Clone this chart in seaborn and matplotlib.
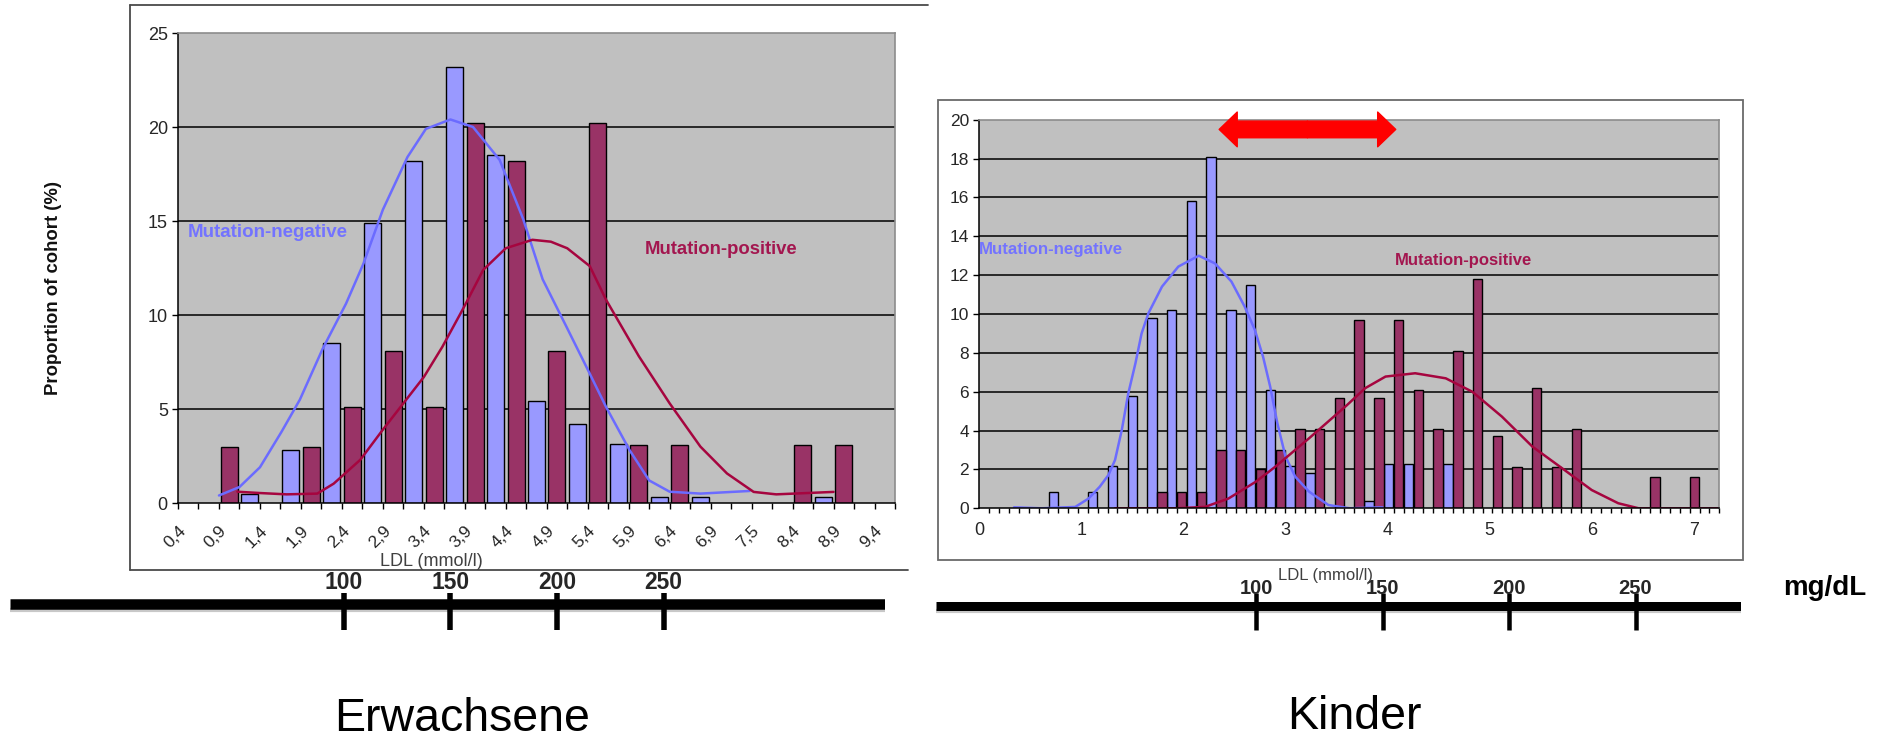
import numpy as np
import pandas as pd
import matplotlib
matplotlib.use("Agg")
import matplotlib.pyplot as plt
import seaborn as sns
from matplotlib.lines import Line2D
from matplotlib.patches import Rectangle, FancyArrowPatch, ArrowStyle

# ======================= DATA =======================
# Adults (Erwachsene): Excel category axis, each bin = [positive slot, negative slot]
adult_bin_labels = ["0,4", "0,9", "1,4", "1,9", "2,4", "2,9", "3,4", "3,9", "4,4",
                    "4,9", "5,4", "5,9", "6,4", "6,9", "7,5", "8,4", "8,9", "9,4"]
adult_pos = [0, 3.0, 0, 3.0, 5.1, 8.1, 5.1, 20.2, 18.2, 8.1, 20.2, 3.1, 3.1, 0, 0, 3.1, 3.1, 0]
adult_neg = [0, 0.5, 2.8, 8.5, 14.9, 18.2, 23.2, 18.5, 5.4, 4.2, 3.15, 0.3, 0.3, 0, 0, 0.3, 0, 0]
# smoothed fit curves (x in category-slot units)
adult_neg_curve_x = [2.0, 3.0, 4.0, 5.06, 5.95, 7.06, 8.2, 9.04, 10.0, 11.2, 12.1, 13.3, 14.4,
                     15.7, 16.85, 17.8, 18.96, 20.0, 20.9, 22.05, 23.0, 24.0, 25.5, 27.9]
adult_neg_curve_y = [0.4, 0.85, 1.9, 3.8, 5.5, 8.2, 10.6, 12.7, 15.6, 18.4, 19.9, 20.4, 20.0,
                     18.25, 15.1, 11.9, 9.38, 7.1, 5.1, 2.8, 1.2, 0.6, 0.5, 0.64]
adult_pos_curve_x = [2.9, 4.0, 5.3, 6.8, 7.6, 8.9, 10.0, 11.0, 12.0, 12.9, 13.9, 14.9, 16.0,
                     17.3, 18.2, 19.0, 20.1, 20.9, 22.5, 24.0, 25.5, 26.8, 28.1, 29.2, 32.0]
adult_pos_curve_y = [0.6, 0.53, 0.46, 0.5, 1.03, 2.3, 3.9, 5.3, 6.7, 8.3, 10.3, 12.4, 13.55,
                     14.0, 13.9, 13.55, 12.6, 10.8, 7.8, 5.3, 3.0, 1.57, 0.59, 0.46, 0.59]

# Children (Kinder): 38 bins, each bin = [positive slot, negative slot]
kid_pos = [0, 0, 0, 0, 0, 0, 0, 0, 0, 0.86, 0.86, 0.86, 3.0, 3.0, 2.0, 3.0, 4.1, 4.1, 5.7,
           9.7, 5.7, 9.7, 6.1, 4.1, 8.1, 11.8, 3.7, 2.1, 6.2, 2.1, 4.1, 0, 0, 0, 1.6, 0, 1.6, 0]
kid_neg = [0, 0, 0, 0.86, 0, 0.86, 2.2, 5.8, 9.8, 10.2, 15.8, 18.1, 10.2, 11.5, 6.1, 2.2, 1.8,
           0, 0, 0.4, 2.3, 2.3, 0, 2.3, 0, 0, 0, 0, 0, 0, 0, 0, 0, 0, 0, 0, 0, 0]
kid_x_labels = [0, 1, 2, 3, 4, 5, 6, 7]
# smoothed fit curves (x in mmol/l)
kid_neg_curve_x = [0.34, 0.61, 0.94, 1.07, 1.18, 1.265, 1.33, 1.396, 1.46, 1.53, 1.59, 1.657, 1.79,
                   1.95, 2.15, 2.31, 2.47, 2.60, 2.70, 2.78, 2.85, 2.92, 3.0, 3.095, 3.23, 3.42,
                   3.63, 3.95]
kid_neg_curve_y = [0.05, 0.0, 0.07, 0.5, 1.11, 1.71, 2.49, 4.03, 5.92, 7.47, 9.0, 10.04, 11.41,
                   12.44, 13.0, 12.6, 11.67, 10.38, 9.18, 7.8, 6.26, 4.38, 2.66, 1.63, 0.86, 0.17,
                   0.0, 0.05]
kid_pos_curve_x = [1.33, 1.92, 2.21, 2.44, 2.71, 2.9, 3.23, 3.60, 3.78, 3.98, 4.27, 4.57, 4.83,
                   5.12, 5.42, 5.71, 6.0, 6.26, 6.46, 7.25]
kid_pos_curve_y = [0.0, 0.0, 0.07, 0.5, 1.37, 2.14, 3.6, 5.3, 6.18, 6.78, 6.95, 6.69, 6.0,
                   4.72, 3.17, 2.06, 0.94, 0.26, 0.0, 0.0]
kid_arrow_span = [2.35, 4.08]   # mmol/l
kid_arrow_level = 19.5

ruler_ticks = [100, 150, 200, 250]   # mg/dL

# ======================= STYLE =======================
sns.set_style("white")
plt.rcParams['font.family'] = ['Liberation Sans', 'DejaVu Sans']

W, H = 1887, 742
fig = plt.figure(figsize=(W / 100, H / 100), dpi=100)


def fx(x):
    return x / W


def fy(y):
    return 1 - y / H


def box(x0, y0, x1, y1):
    return [fx(x0), fy(y1), (x1 - x0) / W, (y1 - y0) / H]


NEG_BAR, POS_BAR = "#9999FF", "#993366"
NEG_LINE, POS_LINE = "#6B6BFF", "#A6053F"
NEG_TXT, POS_TXT = "#7373FF", "#A3164F"
PLOT_BG = "#C0C0C0"
BORDER = "#8C8C8C"


def style_axes(ax, ymax, ystep, ysize):
    ax.set_facecolor(PLOT_BG)
    ax.set_ylim(0, ymax)
    ax.set_yticks(np.arange(0, ymax + 0.1, ystep))
    ax.yaxis.grid(True, color="black", lw=1.1)
    ax.xaxis.grid(False)
    gl = ax.yaxis.get_gridlines()
    gl[0].set_visible(False)
    gl[-1].set_visible(False)
    ax.set_axisbelow(True)
    for s in ("left", "bottom"):
        ax.spines[s].set_color("black")
        ax.spines[s].set_linewidth(1.1)
    for s in ("top", "right"):
        ax.spines[s].set_color(BORDER)
        ax.spines[s].set_linewidth(1.2)
    ax.tick_params(axis="y", direction="out", length=4.3, width=1, color="black",
                   labelsize=ysize, pad=3, left=True)
    ax.set_xlabel("")
    ax.set_ylabel("")


# ======================= ADULT CHART =======================
axL = fig.add_axes(box(178, 33, 895, 503))
rows = []
for j in range(len(adult_bin_labels)):
    rows.append(("pos", 2 * j + 0.5, adult_pos[j]))
    rows.append(("neg", 2 * j + 1.5, adult_neg[j]))
df_a = pd.DataFrame(rows, columns=["series", "x", "value"])
df_a = df_a[(df_a.value > 0) & (df_a.x < 35)]
sns.barplot(data=df_a, x="x", y="value", hue="series",
            palette={"pos": POS_BAR, "neg": NEG_BAR}, native_scale=True, dodge=False,
            width=0.83, edgecolor="black", linewidth=1.0, saturation=1, legend=False,
            errorbar=None, ax=axL)
sns.lineplot(x=adult_neg_curve_x, y=adult_neg_curve_y, color=NEG_LINE, lw=1.8,
             sort=False, estimator=None, ax=axL)
sns.lineplot(x=adult_pos_curve_x, y=adult_pos_curve_y, color=POS_LINE, lw=1.8,
             sort=False, estimator=None, ax=axL)
style_axes(axL, 25, 5, 13)
axL.set_xlim(0, 35)
axL.set_xticks(np.arange(0, 35, 2))
axL.set_xticklabels(adult_bin_labels, rotation=45, ha="right", va="top",
                    rotation_mode="anchor")
axL.set_xticks(np.arange(1, 36, 2), minor=True)
axL.tick_params(axis="x", which="both", direction="out", length=4.3, width=1,
                color="black", bottom=True)
axL.tick_params(axis="x", which="major", labelsize=12.5, pad=10)

# ======================= CHILD CHART =======================
axR = fig.add_axes(box(979.3, 119.7, 1719.3, 508.3))
n_slots = 75
slot_w = 7.25 / n_slots
rows = []
for m in range(len(kid_pos)):
    rows.append(("pos", (2 * m + 0.5) * slot_w, kid_pos[m]))
    rows.append(("neg", (2 * m + 1.5) * slot_w, kid_neg[m]))
df_k = pd.DataFrame(rows, columns=["series", "x", "value"])
df_k = df_k[df_k.value > 0]
sns.barplot(data=df_k, x="x", y="value", hue="series",
            palette={"pos": POS_BAR, "neg": NEG_BAR}, native_scale=True, dodge=False,
            width=0.95, edgecolor="black", linewidth=1.0, saturation=1, legend=False,
            errorbar=None, ax=axR)
sns.lineplot(x=kid_neg_curve_x, y=kid_neg_curve_y, color=NEG_LINE, lw=1.8,
             sort=False, estimator=None, ax=axR)
sns.lineplot(x=kid_pos_curve_x, y=kid_pos_curve_y, color=POS_LINE, lw=1.8,
             sort=False, estimator=None, ax=axR)
style_axes(axR, 20, 2, 12.5)
axR.set_xlim(0, n_slots * slot_w)
axR.set_xticks(kid_x_labels)
axR.set_xticklabels([str(v) for v in kid_x_labels])
axR.set_xticks(np.arange(n_slots + 1) * slot_w, minor=True)
axR.tick_params(axis="x", which="major", length=0, labelsize=13, pad=10)
axR.tick_params(axis="x", which="minor", direction="out", length=3.6, width=1,
                color="black", bottom=True)

# red double arrow
mid = sum(kid_arrow_span) / 2
for end in kid_arrow_span:
    axR.add_patch(FancyArrowPatch((mid, kid_arrow_level), (end, kid_arrow_level),
                                  arrowstyle=ArrowStyle.Simple(head_length=13, head_width=25,
                                                               tail_width=12),
                                  color="#FF0000", mutation_scale=1, shrinkA=0, shrinkB=0,
                                  clip_on=False, zorder=6))

# ======================= TEXTS =======================
fig.text(fx(54), fy(288), "Proportion of cohort (%)", rotation=90, ha="center",
         va="center", fontsize=13.3, fontweight="bold", color="#111111")
fig.text(fx(188), fy(237), "Mutation-negative", fontsize=13.5, fontweight="bold",
         color=NEG_TXT, va="baseline")
fig.text(fx(645), fy(253.5), "Mutation-positive", fontsize=13.3, fontweight="bold",
         color=POS_TXT, va="baseline")
fig.text(fx(978.5), fy(254), "Mutation-negative", fontsize=12.2, fontweight="bold",
         color=NEG_TXT, va="baseline")
fig.text(fx(1395), fy(265), "Mutation-positive", fontsize=12, fontweight="bold",
         color=POS_TXT, va="baseline")
fig.text(fx(431.7), fy(566), "LDL (mmol/l)", ha="center", va="baseline", fontsize=13,
         color="#404040")
fig.text(fx(1278), fy(580), "LDL (mmol/l)", ha="left", va="baseline", fontsize=12,
         color="#404040")
fig.text(fx(1783), fy(595), "mg/dL", ha="left", va="baseline", fontsize=20,
         fontweight="bold", color="black")
fig.text(fx(462), fy(731), "Erwachsene", ha="center", va="baseline", fontsize=33.5,
         color="black")
fig.text(fx(1354), fy(729), "Kinder", ha="center", va="baseline", fontsize=33.5,
         color="black")

# ======================= FRAMES =======================
FRAME = "#4A4A4A"
for (x0, y0, x1, y1) in [(130, 5, 928, 5), (130, 5, 130, 570), (130, 570, 908, 570)]:
    fig.add_artist(Line2D([fx(x0), fx(x1)], [fy(y0), fy(y1)], color=FRAME, lw=1.3))
fig.add_artist(Rectangle((fx(938), fy(560)), (1743 - 938) / W, (560 - 100) / H,
                         fill=False, edgecolor="#6A6A6A", lw=1.3, transform=fig.transFigure))


# ======================= mg/dL RULERS =======================
def ruler(x_start, x_end, px100, px250, y_line, line_px, tick_px, label_size, y_label):
    ax = fig.add_axes(box(x_start, 560, x_end, 640))
    ax.set_axis_off()
    scale = (px250 - px100) / (ruler_ticks[-1] - ruler_ticks[0])
    lo = ruler_ticks[0] - (px100 - x_start) / scale
    hi = ruler_ticks[0] + (x_end - px100) / scale
    ax.set_xlim(lo, hi)
    ax.set_ylim(640, 560)
    ax.plot([lo, hi], [y_line + line_px * 0.55, y_line + line_px * 0.55], color="#BBBBBB",
            lw=3, solid_capstyle="butt", alpha=0.8)
    ax.plot([lo, hi], [y_line, y_line], color="black", lw=line_px * 0.72,
            solid_capstyle="butt")
    ax.vlines(ruler_ticks, 593, 630, color="black", lw=tick_px * 0.72)
    for t in ruler_ticks:
        ax.text(t, y_label, str(t), ha="center", va="baseline", fontsize=label_size,
                fontweight="bold", clip_on=False)


ruler(9.6, 884.5, 343.5, 663.7, 604.4, 10.5, 5.5, 16.5, 589)
ruler(936, 1741, 1256, 1635.5, 605.8, 9, 4.5, 14.5, 594.5)

fig.savefig("out.png", dpi=100)
